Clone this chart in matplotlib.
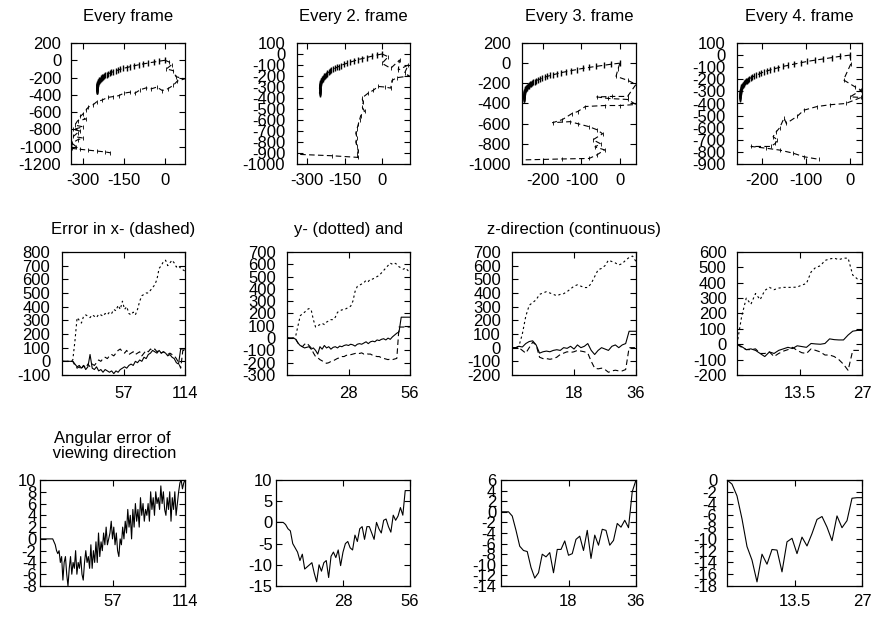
import numpy as np
import matplotlib.pyplot as plt

plt.rcParams['font.family'] = ['Liberation Sans', 'DejaVu Sans']
plt.rcParams['font.size'] = 12
plt.rcParams['axes.unicode_minus'] = False

# ---- row 1: trajectories (ground truth arc + estimated path) ----
gt_x = [0, -22, -42, -62, -80, -97, -112, -127, -140, -153, -164, -173, -181, -189, -196,
        -203, -208, -214, -219, -222, -226, -229, -232, -234, -236, -238, -240, -242, -243,
        -244, -245, -246, -247, -247, -248, -248, -249, -249, -249, -249, -250, -250, -250,
        -250, -250, -250, -250, -250, -250, -250, -250, -250, -250, -250, -250, -250, -250]
gt_y = [0, -10, -21, -32, -42, -52, -63, -74, -84, -94, -105, -114, -122, -131, -140,
        -149, -158, -166, -175, -182, -189, -196, -203, -210, -217, -224, -231, -238, -245,
        -250, -256, -261, -266, -271, -277, -282, -287, -292, -298, -301, -305, -308, -312,
        -315, -319, -322, -326, -329, -333, -336, -339, -342, -345, -348, -351, -355, -360]

est1_x = [0, 15, 25, 5, 30, 40, 72, 45, 30, 10, -10, -30, -50, -70, -90, -110, -130, -150,
          -170, -190, -210, -230, -250, -265, -280, -290, -300, -310, -290, -320, -330, -300,
          -335, -310, -320, -335, -300, -320, -340, -325, -340, -310, -280, -250, -220, -200]
est1_y = [0, -20, -50, -100, -120, -190, -215, -240, -290, -330, -350, -310, -330, -320, -340,
          -380, -370, -380, -410, -420, -430, -460, -480, -520, -540, -580, -620, -650, -680,
          -700, -750, -770, -800, -820, -840, -880, -900, -920, -960, -1000, -1020, -1030,
          -1040, -1050, -1060, -1070]

est2_x = [0, 25, 0, 35, 70, 65, 105, 90, 110, 60, 40, 35, 10, -15, -35, -55, -80, -75, -80,
          -70, -85, -90, -95, -100, -105, -100, -105, -100, -95, -100, -95, -200, -360]
est2_y = [0, -25, -85, -130, -55, -145, -100, -175, -200, -215, -240, -310, -300, -295, -330,
          -355, -400, -440, -480, -520, -560, -600, -640, -680, -720, -760, -800, -840, -880,
          -920, -940, -925, -910]

est3_x = [0, -5, -10, 20, 42, 20, -20, -60, -30, 20, 42, 0, -40, -90, -110, -125, -150, -175,
          -130, -110, -80, -60, -45, -70, -50, -65, -40, -60, -80, -150, -260]
est3_y = [0, -60, -130, -170, -210, -330, -330, -335, -350, -360, -410, -420, -420, -430, -480,
          -500, -560, -590, -580, -600, -630, -660, -700, -760, -800, -830, -860, -910, -945,
          -950, -960]

est4_x = [0, 2, -15, 10, 25, 0, 25, -10, -45, -75, -105, -120, -145, -150, -160, -168, -175,
          -165, -170, -180, -225, -190, -160, -130, -105, -70]
est4_y = [0, -70, -205, -260, -290, -345, -350, -400, -410, -425, -455, -505, -565, -520, -600,
          -635, -675, -700, -730, -755, -755, -770, -785, -810, -840, -862]

# ---- row 2: position error, x (dashed), y (dotted), z (solid) ----
frames5 = np.arange(0, 115, 2)
ex5 = [0, 0, 0, 0, 0, 0, -30, -50, -40, -60, -30, -50, -20, -40, -20, -30, -10, 10, 0, 20,
       30, 20, 40, 50, 40, 60, 80, 90, 70, 60, 80, 50, 60, 70, 50, 60, 70, 40, 60, 80, 70, 90,
       80, 90, 70, 80, 60, 70, 60, 50, 60, 50, 40, 20, -10, -50, 80, 80]
ey5 = [0, 0, 0, 0, 0, 10, 150, 320, 300, 280, 330, 340, 330, 320, 340, 330, 320, 345, 340,
       330, 350, 340, 360, 350, 380, 370, 410, 380, 440, 380, 400, 350, 340, 360, 340, 380,
       440, 480, 490, 500, 500, 520, 540, 560, 600, 680, 700, 730, 740, 700, 720, 740, 720,
       690, 700, 680, 670, 660]
ez5 = [0, 0, 0, 0, 0, 0, -20, -40, -30, -50, -30, -60, -40, 50, -50, -60, -40, -70, -60, -80,
       -60, -70, -80, -70, -90, -70, -80, -60, -50, -40, -50, -30, -20, -30, 0, -10, 10, 0, 30,
       20, 50, 60, 80, 70, 60, 80, 60, 70, 60, 40, 50, 30, 20, -10, -20, 90, 90, 90]

frames6 = np.arange(0, 57)
ex6 = [0, 0, 0, 0, -10, -40, -60, -70, -50, -40, -60, -80, -120, -150, -160, -175, -185, -195,
       -205, -200, -190, -185, -175, -165, -160, -150, -150, -140, -140, -135, -130, -125, -120,
       -125, -120, -130, -125, -130, -130, -140, -145, -150, -150, -160, -165, -170, -175, -170,
       -175, -170, -165, 90, 90, 90, 90, 90, 90]
ey6 = [0, 0, 0, 0, 20, 100, 180, 200, 210, 230, 240, 230, 150, 90, 100, 110, 120, 110, 130,
       140, 150, 150, 170, 210, 220, 230, 230, 240, 250, 260, 300, 380, 420, 430, 440, 450, 470,
       460, 480, 480, 490, 500, 510, 530, 550, 570, 590, 610, 600, 610, 600, 580, 570, 560, 570,
       550, 540]
ez6 = [0, 0, 0, 0, -10, -40, -60, -70, -80, -75, -70, -90, -80, -100, -130, -70, -90, -60, -80,
       -70, -90, -75, -70, -80, -65, -70, -60, -55, -60, -50, -55, -65, -50, -45, -50, -40, -30,
       -45, -30, -25, -30, -15, -20, -10, -5, -15, 0, -10, 10, 25, 40, 50, 170, 170, 170, 170, 170]

frames7 = np.arange(0, 37)
ex7 = [0, 0, 0, -20, -40, 0, 40, 20, -70, -80, -80, -85, -80, -70, -50, -40, -30, -35, -30,
       -20, -25, -30, -40, -100, -150, -155, -150, -160, -180, -170, -165, -170, -170, -160, 0,
       0, 0]
ey7 = [0, 0, 10, 100, 230, 310, 330, 350, 390, 400, 410, 400, 390, 380, 390, 395, 410, 430,
       450, 460, 450, 440, 440, 470, 520, 570, 580, 600, 640, 630, 620, 605, 615, 640, 660, 670,
       630]
ez7 = [0, 0, 10, 5, 30, 45, 50, 20, -40, -30, -25, -30, -20, -15, -20, 0, -5, 10, -10, 20, 0,
       10, 30, -20, -50, -20, 0, -10, -20, 10, 20, 0, 20, 30, 120, 120, 120]

frames8 = np.arange(0, 28)
ex8 = [0, -20, -35, -35, -30, -60, -60, -50, -80, -60, -45, -35, -20, -40, -55, -60, -30, -40,
       -50, -70, -70, -80, -100, -130, -170, -40, -40, -40]
ey8 = [0, 180, 300, 260, 330, 290, 350, 370, 355, 365, 370, 370, 370, 372, 385, 395, 470, 500,
       510, 545, 555, 560, 550, 560, 560, 450, 425, 420]
ez8 = [0, -15, -35, -30, -40, -60, -80, -50, -60, -40, -30, -20, -28, -10, -15, -20, 5, 2, 0,
       5, 35, 30, 28, 28, 60, 85, 90, 90]

# ---- row 3: angular error of viewing direction ----
ang9 = [0, 0, 0, 0, 0, 0, 0, 0, 0, 0, 0, -0.5, -1, -2, -2.5, -2, -4, -3, -7, -4,
        -3, -6, -8, -5, -3, -6, -4, -5, -2, -6, -4, -5, -3, -6, -7, -4, -2, -4, -3, -5,
        -1, -5, -2, -4, -0.5, -4, 1, -3, -0.5, -2, 1, -1, 2, -1, 0, 1, 3, 0, 2, -1,
        1, -2, -3, 0, -1, 2, 0, 3, 1, 5, 2, 4, 0, 5, 2, 6, 3, 5, 2, 7,
        4, 6, 3, 5, 4, 6, 3, 8, 5, 7, 4, 8, 6, 7, 5, 9, 6, 8, 5, 4,
        7, 5, 8, 3, 7, 5, 8, 4, 6, 8, 9.5, 10, 8.5, 9.5, 10]
ang10 = [0, 0, 0, 0, -0.5, -1.5, -2, -5, -6, -7, -9, -7.5, -11, -10.5, -10, -9.5, -12, -14,
         -10, -11.5, -9.5, -9, -13, -8, -7, -8.3, -6.5, -10.2, -7, -5, -4.5, -6, -6.5, -3,
         -4.5, -1.5, -1, -4, -1, -1, -2.5, -4, 0, -1.5, -2.5, 0.5, 0.8, -1, -2.3, 1.7, 0.5,
         1.5, 3.5, 1.7, 7.5, 7.5, 7.5]
ang11 = [0, 0, 0, -0.8, -3.5, -6.5, -7.3, -7.5, -10.5, -12.5, -11.5, -8, -8.5, -7.7, -11.5,
         -7.1, -7.1, -5.5, -8.2, -7.9, -5.2, -4.6, -7.3, -3.5, -8.8, -4.4, -6.3, -3.3, -3.5,
         -6.3, -5.4, -2.2, -2.9, -1.6, -3, 3.8, 6]
ang12 = [0, -0.7, -2.7, -6.6, -11.3, -13.6, -17.3, -12.6, -14.3, -11.8, -11.9, -15.6, -10.5,
         -9.9, -12.5, -9.7, -11.2, -9.1, -6.7, -6.2, -8, -10.3, -6.1, -8.1, -6.9, -3.1, -3, -3]

titles1 = ['Every frame', 'Every 2. frame', 'Every 3. frame', 'Every 4. frame']
titles2 = ['Error in x- (dashed)', 'y- (dotted) and', 'z-direction (continuous)', '']
title3 = 'Angular error of\n viewing direction'

xlims1 = [(-344, 73), (-340, 112), (-255, 42), (-257, 27)]
xticks1 = [[-300, -150, 0], [-300, -150, 0], [-200, -100, 0], [-200, -100, 0]]
ylims1 = [(-1200, 200, 200), (-1000, 100, 100), (-1000, 200, 200), (-900, 100, 100)]

nframes = [114, 56, 36, 27]
xticklabels = [['57', '114'], ['28', '56'], ['18', '36'], ['13.5', '27']]
ylims2 = [(-100, 800, 100), (-300, 700, 100), (-200, 700, 100), (-200, 600, 100)]
ylims3 = [(-8, 10, 2), (-15, 10, 5), (-14, 6, 2), (-18, 0, 2)]

W, H = 874.0, 618.0
fig = plt.figure(figsize=(W / 100, H / 100), dpi=100)

def box(left, top, right, bottom):
    return fig.add_axes([left / W, 1 - bottom / H, (right - left) / W, (bottom - top) / H])

def style(ax, xpad, ypad):
    ax.tick_params(direction='in', top=True, right=True, length=4.5, width=0.8)
    ax.tick_params(axis='x', pad=xpad)
    ax.tick_params(axis='y', pad=ypad)
    for s in ax.spines.values():
        s.set_linewidth(0.9)

def title(ax, text, base):
    l, b, w, h = ax.get_position().bounds
    fig.text(l + w / 2, 1 - base / H, text, ha='center', va='baseline', ma='center',
             linespacing=1.0)

rights = [185, 410, 636, 862]
lefts1 = [71, 297, 522, 737]
lefts2 = [62, 287, 512, 737]
lefts3 = [40, 276, 501, 727]
ypads1 = [7, 8.5, 8, 8.5]
ypads2 = [8.5, 8, 8, 7.5]
ypads3 = [2.5, 2.5, 3.5, 7]

ests = [(est1_x, est1_y), (est2_x, est2_y), (est3_x, est3_y), (est4_x, est4_y)]
errs = [(frames5, ex5, ey5, ez5), (frames6, ex6, ey6, ez6),
        (frames7, ex7, ey7, ez7), (frames8, ex8, ey8, ez8)]
angs = [ang9, ang10, ang11, ang12]

dash = (0, (5, 3))
dot = (0, (2, 2.5))

for i in range(4):
    # trajectories
    ax = box(lefts1[i], 43, rights[i], 164)
    ax.plot(gt_x, gt_y, color='k', ls=dash, lw=0.8, marker='|', ms=5, mew=1.0)
    ax.plot(ests[i][0], ests[i][1], color='k', ls=dash, lw=0.8, marker='|', ms=3.5, mew=0.6)
    ax.set_xlim(xlims1[i])
    ax.set_xticks(xticks1[i])
    lo, hi, st = ylims1[i]
    ax.set_ylim(lo, hi)
    ax.set_yticks(np.arange(lo, hi + st, st))
    style(ax, 6.5, ypads1[i])
    title(ax, titles1[i], 21.5)

    # position errors
    ax = box(lefts2[i], 252, rights[i], 375)
    f, ex, ey, ez = errs[i]
    ax.plot(f, ex, color='k', ls=dash, lw=0.8)
    ax.plot(f, ey, color='k', ls=dot, lw=0.8)
    ax.plot(f, ez, color='k', ls='-', lw=0.8)
    ax.set_xlim(0, nframes[i])
    ax.set_xticks([nframes[i] / 2, nframes[i]])
    ax.set_xticklabels(xticklabels[i])
    lo, hi, st = ylims2[i]
    ax.set_ylim(lo, hi)
    ax.set_yticks(np.arange(lo, hi + st, st))
    style(ax, 8, ypads2[i])
    if titles2[i]:
        title(ax, titles2[i], 234)

    # angular error
    ax = box(lefts3[i], 480, rights[i], 586)
    ax.plot(np.arange(len(angs[i])), angs[i], color='k', lw=0.8)
    ax.set_xlim(0, nframes[i])
    ax.set_xticks([nframes[i] / 2, nframes[i]])
    ax.set_xticklabels(xticklabels[i])
    lo, hi, st = ylims3[i]
    ax.set_ylim(lo, hi)
    ax.set_yticks(np.arange(lo, hi + st, st))
    style(ax, 6, ypads3[i])
    if i == 0:
        title(ax, title3, 458)

fig.savefig('out.png', dpi=100)
